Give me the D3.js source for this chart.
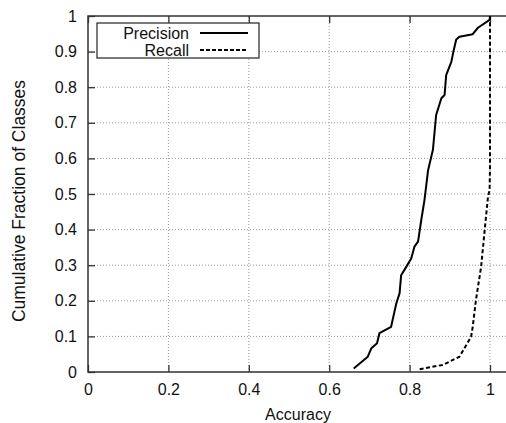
<!DOCTYPE html>
<html lang="en">
<head>
    <meta charset="UTF-8">
    <title>Cumulative Fraction of Classes</title>
    <script src="https://d3js.org/d3.v7.min.js"></script>
    <style>
        body { margin: 0; background: #fff; font-family: "Liberation Sans", Arial, sans-serif; }
        svg { display: block; }
    </style>
</head>
<body>
    <div id="chart"></div>

    <script>
        // values
        const precisionX = [0.661, 0.696, 0.705, 0.719, 0.725, 0.754, 0.767, 0.775, 0.779, 0.792, 0.804, 0.812, 0.821, 0.829, 0.837, 0.846, 0.858, 0.866, 0.879, 0.887, 0.891, 0.904, 0.909, 0.916, 0.924, 0.957, 0.970, 0.999, 1.0];
        const precisionY = [0.010, 0.043, 0.067, 0.081, 0.109, 0.127, 0.193, 0.221, 0.272, 0.296, 0.319, 0.352, 0.366, 0.427, 0.483, 0.567, 0.624, 0.722, 0.769, 0.778, 0.834, 0.872, 0.900, 0.934, 0.942, 0.949, 0.967, 0.989, 1.0];
        const recallX = [0.825, 0.883, 0.924, 0.953, 0.957, 0.965, 0.978, 0.986, 0.995, 0.999, 1.0, 1.0];
        const recallY = [0.008, 0.020, 0.043, 0.099, 0.127, 0.202, 0.296, 0.390, 0.492, 0.511, 0.577, 1.0];
        const xTicks = [0, 0.2, 0.4, 0.6, 0.8, 1];
        const yTicks = [0, 0.1, 0.2, 0.3, 0.4, 0.5, 0.6, 0.7, 0.8, 0.9, 1];
        const seriesNames = ["Precision", "Recall"];

        const width = 506, height = 423;
        const plotLeft = 88, plotTop = 16, plotBottom = 372;

        const svg = d3.select("#chart").append("svg")
            .attr("width", width)
            .attr("height", height);

        const x = d3.scaleLinear().domain([0, 1.05]).range([plotLeft, plotLeft + 402 * 1.05]);
        const y = d3.scaleLinear().domain([0, 1]).range([plotBottom, plotTop]);

        // grid
        svg.append("g").selectAll("line")
            .data(xTicks.filter(d => d > 0))
            .enter().append("line")
            .attr("x1", d => x(d)).attr("x2", d => x(d))
            .attr("y1", y(0)).attr("y2", y(1))
            .style("stroke", "#999").style("stroke-width", 1)
            .style("stroke-dasharray", "1,2");

        svg.append("g").selectAll("line")
            .data(yTicks.filter(d => d > 0 && d < 1))
            .enter().append("line")
            .attr("x1", x(0)).attr("x2", x(1.05))
            .attr("y1", d => y(d)).attr("y2", d => y(d))
            .style("stroke", "#999").style("stroke-width", 1)
            .style("stroke-dasharray", "1,2");

        // axes with inward ticks
        const xAxis = svg.append("g")
            .attr("transform", `translate(0,${plotBottom})`)
            .call(d3.axisBottom(x).tickValues(xTicks).tickSize(-7).tickPadding(12)
                .tickFormat(d => d3.format("")(d)));
        const xTop = svg.append("g")
            .attr("transform", `translate(0,${plotTop})`)
            .call(d3.axisTop(x).tickValues(xTicks).tickSize(-7).tickFormat(""));
        const yAxis = svg.append("g")
            .attr("transform", `translate(${plotLeft},0)`)
            .call(d3.axisLeft(y).tickValues(yTicks).tickSize(-7).tickPadding(11)
                .tickFormat(d => d3.format("")(d)));

        [xAxis, xTop, yAxis].forEach(g => {
            g.select(".domain").remove();
            g.selectAll(".tick line").style("stroke", "#333").style("stroke-width", 1.3);
            g.selectAll("text").style("font-size", "16px").style("fill", "#111")
                .style("font-family", "'Liberation Sans', Arial, sans-serif");
        });

        // frame
        svg.append("path")
            .attr("d", `M${x(1.05)},${plotTop}H${plotLeft}V${plotBottom}H${x(1.05)}`)
            .style("fill", "none").style("stroke", "#333").style("stroke-width", 1.5);

        // curves
        const line = d3.line().x(d => x(d[0])).y(d => y(d[1]));
        const precision = precisionX.map((v, i) => [v, precisionY[i]]);
        const recall = recallX.map((v, i) => [v, recallY[i]]);

        svg.append("path").datum(precision).attr("d", line)
            .style("fill", "none").style("stroke", "#000").style("stroke-width", 2)
            .style("stroke-linejoin", "round");
        svg.append("path").datum(recall).attr("d", line)
            .style("fill", "none").style("stroke", "#000").style("stroke-width", 2)
            .style("stroke-dasharray", "4,2.5");

        // axis titles
        svg.append("text")
            .attr("x", 298).attr("y", 420)
            .attr("text-anchor", "middle")
            .style("font-size", "16px").style("fill", "#111")
            .text("Accuracy");
        svg.append("text")
            .attr("transform", "translate(25,201) rotate(-90)")
            .attr("text-anchor", "middle")
            .style("font-size", "17.5px").style("fill", "#111")
            .text("Cumulative Fraction of Classes");

        // legend
        const legend = svg.append("g");
        legend.append("rect")
            .attr("x", 97).attr("y", 23).attr("width", 162).attr("height", 35)
            .style("fill", "#fff").style("stroke", "#333").style("stroke-width", 1.3);
        seriesNames.forEach((name, i) => {
            const cy = 33 + i * 17;
            legend.append("text")
                .attr("x", 189).attr("y", cy + 6)
                .attr("text-anchor", "end")
                .style("font-size", "16px").style("fill", "#111")
                .text(name);
            legend.append("line")
                .attr("x1", 200).attr("x2", 248)
                .attr("y1", cy).attr("y2", cy)
                .style("stroke", "#000").style("stroke-width", 2)
                .style("stroke-dasharray", i === 1 ? "4,2" : null);
        });
    </script>
</body>
</html>
